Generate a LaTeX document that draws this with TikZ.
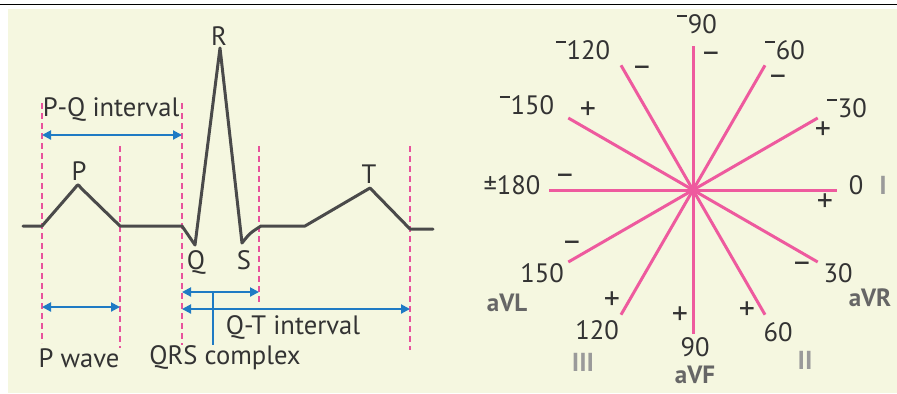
\documentclass[tikz,border=0pt]{standalone}
\usepackage{fontspec}
\setmainfont{PT Sans}
\usepackage{xcolor}
\definecolor{paper}{HTML}{F5F7E0}
\definecolor{pinkline}{HTML}{EE5A9E}
\definecolor{guidepink}{HTML}{E8529C}
\definecolor{dimblue}{HTML}{1F7BC4}
\definecolor{trace}{HTML}{4A4A4A}
\definecolor{inkgrey}{HTML}{333333}
\definecolor{avgrey}{HTML}{666666}
\definecolor{leadgrey}{HTML}{9A9A9A}
\usepackage{tikz}
\usetikzlibrary{
  arrows.meta,
  positioning,
  calc
}
\newcommand\supminus{\rule[0.62em]{0.36em}{0.085em}\kern0.04em}

\begin{document}
\begin{tikzpicture}[x=0.5pt, y=-0.5pt,
  lbl/.style={font=\fontsize{13.3}{15}\selectfont, text=inkgrey, inner sep=0pt},
  sgn/.style={font=\fontsize{16}{18}\selectfont, text=inkgrey, inner sep=0pt, text height=0.6em, text depth=0pt},
  avlbl/.style={font=\fontsize{12.5}{15}\selectfont\bfseries, text=avgrey, inner sep=0pt},
  romlbl/.style={font=\fontsize{13}{15}\selectfont\bfseries, text=leadgrey, inner sep=0pt},
  wave/.style={draw=trace, line width=1.5pt, line join=round, line cap=round},
  guide/.style={draw=guidepink, line width=0.9pt, dash pattern=on 3pt off 2pt},
  dim/.style={{Triangle[length=4.5pt,width=4.5pt]}-{Triangle[length=4.5pt,width=4.5pt]}, draw=dimblue, line width=1pt},
  tick/.style={draw=dimblue, line width=0.8pt},
  ray/.style={draw=pinkline, line width=1.5pt},
]

\useasboundingbox (0,0) rectangle (897,393);
\fill[paper] (8,9) rectangle (897,393);
\draw[black, line width=0.9pt] (0,4.5) -- (897,4.5);

\draw[guide] (42,103) -- (42,343);
\draw[guide] (120,146) -- (120,348);
\draw[guide] (182,103) -- (182,345);
\draw[guide] (259,146) -- (259,305);
\draw[guide] (410,146) -- (410,350);

\draw[wave] (23,226) -- (42,226) -- (75,188) .. controls (78,184) .. (81,188) -- (120,226) -- (182,226)
  -- (195,245) -- (220,48) -- (242,243) .. controls (250,233) .. (261,226)
  -- (305,226) -- (370,188) -- (410,229) -- (433,229);

\node[lbl] (r) at (219,36) {R};
\node[lbl] (p) at (79,171) {P};
\node[lbl] (t) at (369,174) {T};
\node[lbl] (q) at (196,262) {Q};
\node[lbl] (s) at (244,260) {S};

\coordinate (pq-l) at (42,135);
\coordinate (pq-r) at (182,135);
\coordinate (pw-l) at (42,307);
\coordinate (pw-r) at (120,307);
\coordinate (qrs-l) at (182,292);
\coordinate (qrs-r) at (259,292);
\coordinate (qt-l) at (182,309);
\coordinate (qt-r) at (410,309);

\draw[dim] (pq-l) -- (pq-r);
\draw[dim] (pw-l) -- (pw-r);
\draw[dim] (qrs-l) -- (qrs-r);
\draw[dim] (qt-l) -- (qt-r);
\draw[tick] ($(qrs-l)!0.4!(qrs-r)$) -- ++(0,53);

\node[lbl] (pqlab) at (111,109) {P-Q interval};
\node[lbl] (pwlab) at (79,358) {P wave};
\node[lbl] (qrslab) at (225,358) {QRS complex};
\node[lbl] (qtlab) at (293,327) {Q-T interval};

\coordinate (ctr) at (693,190);
\foreach \a in {0,30,...,330}
  \draw[ray] (ctr) -- ++(\a:144);
\fill[pinkline] (ctr) circle (4);

\node[lbl] (n90) at (697,24) {\supminus90};
\node[lbl] (n120) at (583,50) {\supminus120};
\node[lbl] (n60) at (785,50) {\supminus60};
\node[lbl] (n150) at (527,105) {\supminus150};
\node[lbl] (n30) at (847,108) {\supminus30};
\node[lbl] (n180) at (512,185) {±180};
\node[lbl] (p0) at (856,185) {0};
\node[romlbl] (li) at (883,185) {I};
\node[lbl] (p150) at (542,273) {150};
\node[avlbl] (avl) at (507,303) {aVL};
\node[lbl] (p120) at (597,330) {120};
\node[romlbl] (liii) at (583,362) {III};
\node[lbl] (p90) at (695,347) {90};
\node[avlbl] (avf) at (695,375) {aVF};
\node[lbl] (p60) at (778,332) {60};
\node[romlbl] (lii) at (805,360) {II};
\node[lbl] (p30) at (838,273) {30};
\node[avlbl] (avr) at (870,298) {aVR};

\node[sgn] (s90) at (711,56) {–};
\node[sgn] (s120) at (642,70) {–};
\node[sgn] (s60) at (778,79) {–};
\node[sgn] (s150) at (588,113) {+};
\node[sgn] (s30) at (823,133) {+};
\node[sgn] (s180) at (565,178) {–};
\node[sgn] (s0) at (825,205) {+};
\node[sgn] (sp150) at (572,245) {–};
\node[sgn] (sp120) at (612,303) {+};
\node[sgn] (sp90) at (680,318) {+};
\node[sgn] (sp60) at (747,313) {+};
\node[sgn] (sp30) at (802,266) {–};

\end{tikzpicture}
\end{document}
